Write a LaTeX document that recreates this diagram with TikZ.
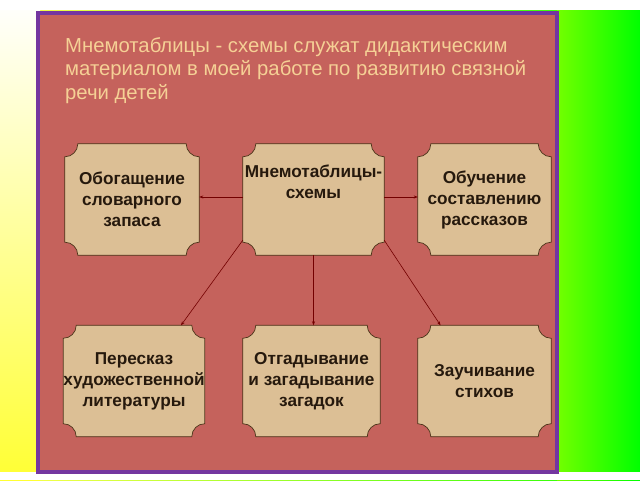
\documentclass[tikz,border=0pt]{standalone}
\usepackage{fontspec}
\setmainfont{Liberation Sans}
\usetikzlibrary{calc,arrows.meta}
\pgfdeclarelayer{bg}\pgfdeclarelayer{mid}\pgfsetlayers{bg,mid,main}
\begin{document}
\begin{tikzpicture}[x=1pt,y=1pt,
  box/.style={minimum width=#1, minimum height=111pt, inner sep=0pt, align=center,
    font=\bfseries\fontsize{17.2}{21}\selectfont, text=black!80!brown},
  arr/.style={-{Stealth[length=4pt,width=3pt]}, draw=red!45!black, line width=0.6pt}]
\definecolor{panel}{HTML}{C5625C}
\definecolor{boxc}{HTML}{DCBF95}
\definecolor{titlec}{HTML}{F5D095}
\definecolor{frame}{HTML}{7436A0}
\useasboundingbox (0,0) rectangle (640,480);
\begin{pgfonlayer}{bg}
\shade[left color=yellow!70!white, right color=green!85!lime] (0,0) rectangle (640,480);
\shade[top color=white, bottom color=yellow!80!white] (0,0) rectangle (40,480);
\shade[left color=green!40!lime, right color=green] (557,0) rectangle (640,480);
\fill[white] (0,470) rectangle (640,480);
\fill[white] (0,0) rectangle (640,8);
\draw[panel, fill=panel] (38,8) rectangle (557,467);
\draw[line width=4pt, color=frame] (38,8) rectangle (557,467);
\end{pgfonlayer}
\node[anchor=north west, align=left, text=titlec, font=\fontsize{20.3}{23.5}\selectfont, inner sep=0pt] (title) at (65,443)
 {Мнемотаблицы - схемы служат дидактическим\\материалом в моей работе по развитию связной\\речи детей};
\node[box=134pt] (a) at (132,280.5) {Обогащение\\словарного\\запаса};
\node[box=141pt] (c) at (313.5,280.5) {Мнемотаблицы-\\схемы\\[14pt]};
\node[box=133pt] (b) at (484.5,280.5) {Обучение\\составлению\\рассказов};
\node[box=138pt] (d) at (134,99) {Пересказ\\художественной\\литературы};
\node[box=137pt] (e) at (311.5,99) {Отгадывание\\и загадывание\\загадок};
\node[box=133pt] (f) at (484.5,99) {Заучивание\\стихов};
\begin{pgfonlayer}{mid}
\foreach \n in {a,c,b,d,e,f}{
  \draw[fill=boxc, draw=brown!40!black, line width=0.7pt]
   ($(\n.north west)+(0,-13)$) arc[start angle=270,end angle=360,radius=13]
   -- ($(\n.north east)+(-13,0)$) arc[start angle=180,end angle=270,radius=13]
   -- ($(\n.south east)+(0,13)$) arc[start angle=90,end angle=180,radius=13]
   -- ($(\n.south west)+(13,0)$) arc[start angle=0,end angle=90,radius=13] -- cycle;
}
\end{pgfonlayer}
\draw[arr] (c.west |- 0,283) -- (a.east |- 0,283);
\draw[arr] (c.east |- 0,283) -- (b.west |- 0,283);
\draw[arr] (c.south) -- (e.north -| c.south);
\draw[arr] ($(c.south west)+(0,15)$) -- ($(d.north)+(47,0)$);
\draw[arr] ($(c.south east)+(0,15)$) -- ($(f.north)+(-44,0)$);
\end{tikzpicture}
\end{document}
